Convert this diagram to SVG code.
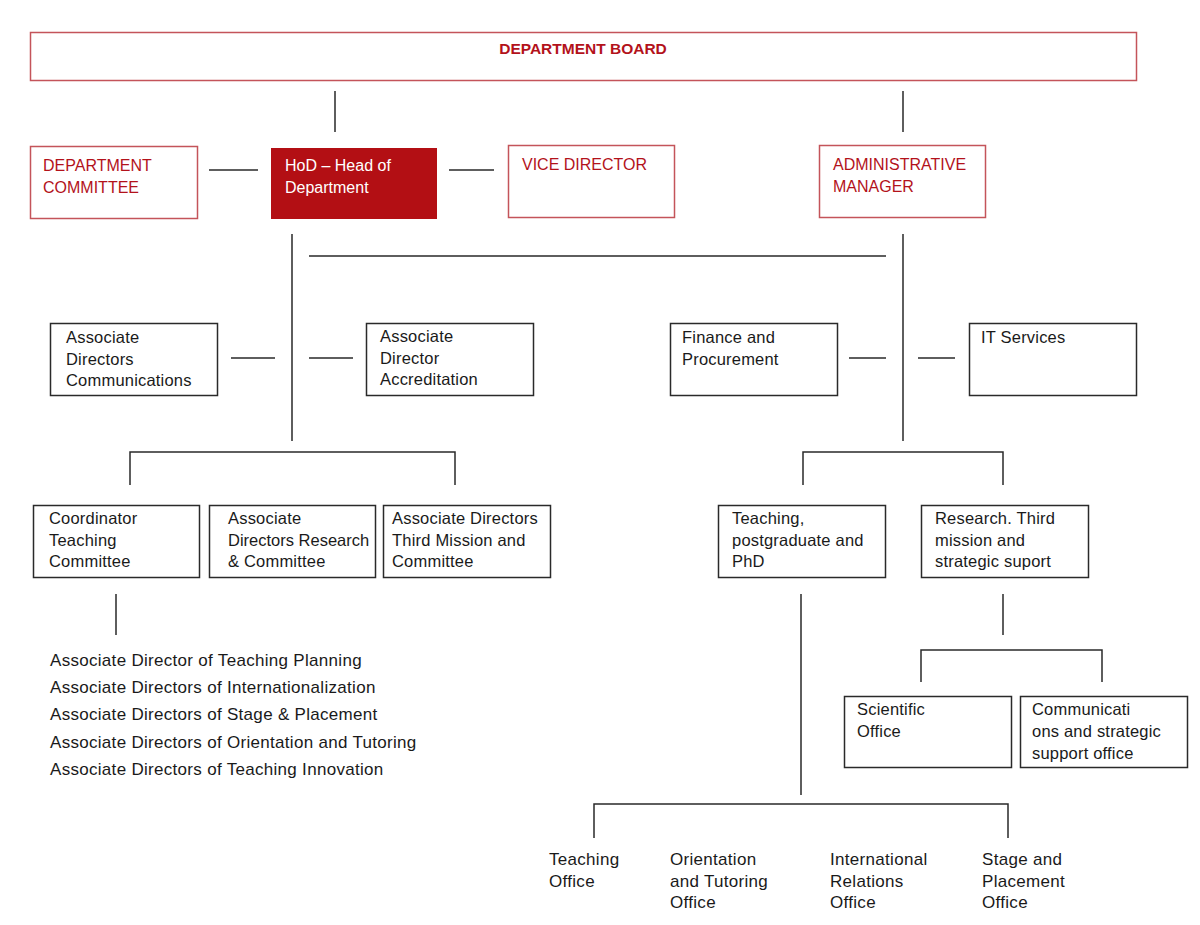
<svg xmlns="http://www.w3.org/2000/svg" width="1200" height="925" viewBox="0 0 1200 925">
<style>
text{font-family:"Liberation Sans",Arial,sans-serif;font-size:16.5px;fill:#1a1a1a;letter-spacing:0.2px}
.rb{fill:#fff;stroke:#c4545a;stroke-width:1.5}
.bb{fill:#fff;stroke:#2a2a2a;stroke-width:1.5}
.rt{fill:#b3121b;font-size:16px;letter-spacing:0}
.wt{fill:#fff;font-size:16px;letter-spacing:0}
.lt{font-size:17px;letter-spacing:0.3px}
.ln{stroke:#2a2a2a;stroke-width:1.5;fill:none}
</style>
<rect width="1200" height="925" fill="#fff"/>
<g id="connectors">
<path class="ln" d="M335 91V132M903 91V132M209 170H258M449 170H494M292 234V441M309 256H886M903 234V441M231 358H275M309 358H353M849 358H886M918 358H955M130 485V452H455V485M803 485V452H1003V485M116 594V635M801 594V795M594 838V804H1008V838M1003 594V635M921 682V650H1102V682"/>
</g>
<g id="board"><rect class="rb" x="30.5" y="32.5" width="1106" height="48"/><text x="583" y="54" text-anchor="middle" style="font-weight:bold;fill:#b3121b;font-size:15.5px;letter-spacing:0">DEPARTMENT BOARD</text></g>
<g id="committee"><rect class="rb" x="30.5" y="146.5" width="167" height="72"/><text class="rt" x="43" y="171">DEPARTMENT</text><text class="rt" x="43" y="193">COMMITTEE</text></g>
<g id="hod"><rect x="271" y="148" width="166" height="71" fill="#b30f14"/><text class="wt" x="285" y="171">HoD – Head of</text><text class="wt" x="285" y="193">Department</text></g>
<g id="vice"><rect class="rb" x="508.5" y="145.5" width="166" height="72"/><text class="rt" x="522" y="170">VICE DIRECTOR</text></g>
<g id="admin"><rect class="rb" x="819.5" y="145.5" width="166" height="72"/><text class="rt" x="833" y="170">ADMINISTRATIVE</text><text class="rt" x="833" y="192">MANAGER</text></g>
<g id="comm"><rect class="bb" x="50.5" y="323.5" width="167" height="72"/><text x="66" y="343">Associate</text><text x="66" y="365">Directors</text><text x="66" y="386">Communications</text></g>
<g id="accr"><rect class="bb" x="366.5" y="323.5" width="167" height="72"/><text x="380" y="342">Associate</text><text x="380" y="364">Director</text><text x="380" y="385">Accreditation</text></g>
<g id="finance"><rect class="bb" x="670.5" y="323.5" width="167" height="72"/><text x="682" y="343">Finance and</text><text x="682" y="365">Procurement</text></g>
<g id="it"><rect class="bb" x="969.5" y="323.5" width="167" height="72"/><text x="981" y="343">IT Services</text></g>
<g id="coord"><rect class="bb" x="33.5" y="505.5" width="166" height="72"/><text x="49" y="524">Coordinator</text><text x="49" y="546">Teaching</text><text x="49" y="567">Committee</text></g>
<g id="research"><rect class="bb" x="209.5" y="505.5" width="166" height="72"/><text x="228" y="524">Associate</text><text x="228" y="546" style="letter-spacing:0">Directors Research</text><text x="228" y="567">&amp; Committee</text></g>
<g id="third"><rect class="bb" x="383.5" y="505.5" width="167" height="72"/><text x="392" y="524">Associate Directors</text><text x="392" y="546">Third Mission and</text><text x="392" y="567">Committee</text></g>
<g id="teachpg"><rect class="bb" x="718.5" y="505.5" width="167" height="72"/><text x="732" y="524">Teaching,</text><text x="732" y="546">postgraduate and</text><text x="732" y="567">PhD</text></g>
<g id="research3"><rect class="bb" x="921.5" y="505.5" width="167" height="72"/><text x="935" y="524">Research. Third</text><text x="935" y="546">mission and</text><text x="935" y="567">strategic suport</text></g>
<g id="list"><text class="lt" x="50" y="666">Associate Director of Teaching Planning</text><text class="lt" x="50" y="693">Associate Directors of Internationalization</text><text class="lt" x="50" y="720">Associate Directors of Stage &amp; Placement</text><text class="lt" x="50" y="748">Associate Directors of Orientation and Tutoring</text><text class="lt" x="50" y="775">Associate Directors of Teaching Innovation</text></g>
<g id="scientific"><rect class="bb" x="844.5" y="696.5" width="167" height="71"/><text x="857" y="715">Scientific</text><text x="857" y="737">Office</text></g>
<g id="commoffice"><rect class="bb" x="1020.5" y="696.5" width="167" height="71"/><text x="1032" y="715">Communicati</text><text x="1032" y="737">ons and strategic</text><text x="1032" y="759">support office</text></g>
<g id="teachoffice"><text class="lt" x="549" y="865">Teaching</text><text class="lt" x="549" y="887">Office</text></g>
<g id="orient"><text class="lt" x="670" y="865">Orientation</text><text class="lt" x="670" y="887">and Tutoring</text><text class="lt" x="670" y="908">Office</text></g>
<g id="intl"><text class="lt" x="830" y="865">International</text><text class="lt" x="830" y="887">Relations</text><text class="lt" x="830" y="908">Office</text></g>
<g id="stage"><text class="lt" x="982" y="865">Stage and</text><text class="lt" x="982" y="887">Placement</text><text class="lt" x="982" y="908">Office</text></g>
</svg>
